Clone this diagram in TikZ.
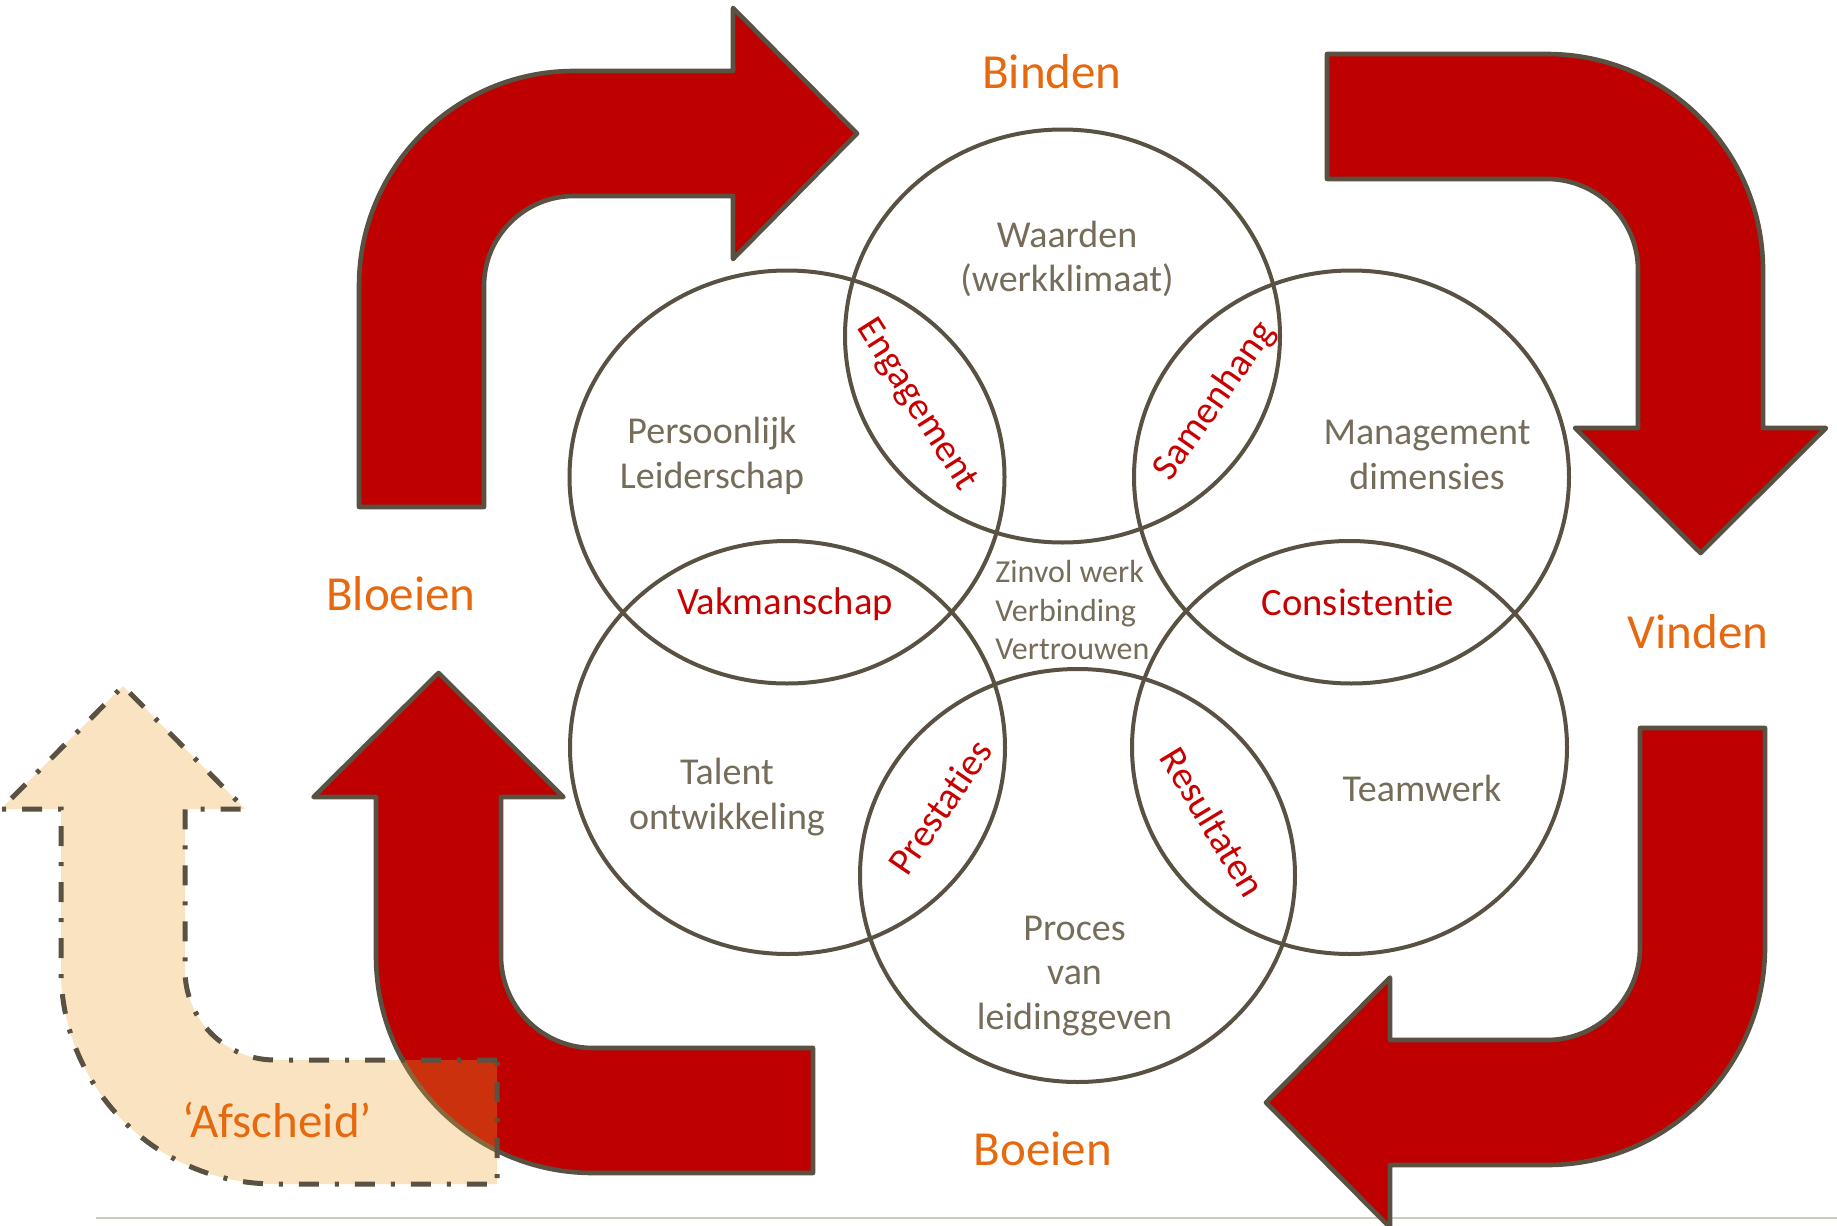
\documentclass[tikz,border=0pt]{standalone}
\usepackage{fontspec}
\setmainfont{Carlito}[Ligatures=NoCommon]
\usetikzlibrary{shapes.geometric}
\definecolor{arrowred}{RGB}{190,0,0}
\definecolor{outl}{RGB}{89,81,66}
\definecolor{txtgrey}{RGB}{118,108,90}
\definecolor{lblred}{RGB}{200,0,0}
\definecolor{lblorange}{RGB}{230,105,15}
\definecolor{afsch}{RGB}{237,163,48}
\definecolor{rulegrey}{RGB}{205,203,190}
\begin{document}
\begin{tikzpicture}[x=0.5pt,y=-0.5pt,
  bigarrow/.style={fill=arrowred, draw=outl, line width=2.3pt, line join=round},
  afarrow/.style={fill=afsch, fill opacity=0.3, draw=outl, draw opacity=1, line width=2.5pt,
     dash pattern=on 10pt off 8pt on 2pt off 8pt},
  ring/.style={ellipse, draw=outl, line width=2pt, inner sep=0pt, outer sep=0pt,
     minimum width=217.5pt, minimum height=206.5pt},
  maintxt/.style={text=txtgrey, align=center, inner sep=0pt, font=\fontsize{19}{22.4}\selectfont},
  midtxt/.style={text=txtgrey, align=left, inner sep=0pt, anchor=west, font=\fontsize{16}{19.2}\selectfont},
  redlbl/.style={text=lblred, inner sep=0pt, font=\fontsize{19.3}{22.4}\selectfont},
  phase/.style={text=lblorange, inner sep=0pt, font=\fontsize{24.5}{29}\selectfont},
  baserule/.style={draw=rulegrey, line width=1.2pt}]
\useasboundingbox (0,0) rectangle (1837,1226);

% bottom rule
\coordinate (ruleL) at (96,1218);
\coordinate (ruleR) at (1837,1218);
\draw[baserule] (ruleL) -- (ruleR);

% red bent arrows
\draw[bigarrow] (359,507) -- (359,286) arc[start angle=180, end angle=270, radius=215]
  -- (733,71) -- (733,8) -- (857,133.5) -- (733,259) -- (733,196) -- (574,196)
  arc[start angle=270, end angle=180, radius=90] -- (484,507) -- cycle;

\draw[bigarrow] (1327,54) -- (1547,54) arc[start angle=270, end angle=360, radius=216]
  -- (1763,428) -- (1826,428) -- (1700.5,553) -- (1575,428) -- (1638,428) -- (1638,270)
  arc[start angle=0, end angle=-90, radius=91] -- (1327,179) -- cycle;

\draw[bigarrow] (1640,728) -- (1765,728) -- (1765,947) arc[start angle=0, end angle=90, radius=218]
  -- (1390,1165) -- (1390,1227.5) -- (1266,1102.5) -- (1390,977.5) -- (1390,1040) -- (1547,1040)
  arc[start angle=90, end angle=0, radius=93] -- cycle;

\draw[bigarrow] (813,1048) -- (593,1048) arc[start angle=90, end angle=180, radius=92]
  -- (501,797) -- (563.5,797) -- (438.5,673) -- (313.5,797) -- (376,797) -- (376,956)
  arc[start angle=180, end angle=90, radius=217] -- (813,1173) -- cycle;

% Afscheid arrow
\draw[afarrow] (497,1060) -- (275,1060) arc[start angle=90, end angle=180, radius=90]
  -- (185,809) -- (245,809) -- (123,686) -- (1,809) -- (61,809) -- (61,970)
  arc[start angle=180, end angle=90, radius=214] -- (497,1184) -- cycle;

% circles
\node[ring] (cW) at (1062.5,336) {};
\node[ring] (cP) at (787,477) {};
\node[ring] (cM) at (1351.5,477) {};
\node[ring] (cT) at (787.5,747.5) {};
\node[ring] (cTw) at (1349.5,747.5) {};
\node[ring] (cPr) at (1077.5,875.5) {};

% circle texts
\node[maintxt] (tW) at (1067,259) {Waarden\\(werkklimaat)};
\node[maintxt] (tP) at (712,456) {Persoonlijk\\Leiderschap};
\node[maintxt] (tM) at (1427,455) {Management\\dimensies};
\node[maintxt] (tT) at (727,797) {Talent\\ontwikkeling};
\node[maintxt] (tTw) at (1422,788) {Teamwerk};
\node[maintxt] (tPr) at (1074.5,976) {Proces\\van\\leidinggeven};
\node[midtxt] (tMid) at (995,610) {Zinvol werk\\Verbinding\\Vertrouwen};

% overlap labels
\node[redlbl, rotate=-57.6] (lE) at (916,405) {Engagement};
\node[redlbl, rotate=55] (lS) at (1215,401) {Samenhang};
\node[redlbl] (lV) at (785,604) {Vakmanschap};
\node[redlbl] (lC) at (1358,602) {Consistentie};
\node[redlbl, rotate=55.6] (lPr) at (940,807) {Prestaties};
\node[redlbl, rotate=-58.8] (lR) at (1213,822) {Resultaten};

% phase labels
\node[phase] (pB) at (1052,72) {Binden};
\node[phase] (pV) at (1698,632) {Vinden};
\node[phase] (pBo) at (1043,1149) {Boeien};
\node[phase] (pBl) at (401,594) {Bloeien};
\node[phase] (pA) at (277,1120) {‘Afscheid’};
\end{tikzpicture}
\end{document}
